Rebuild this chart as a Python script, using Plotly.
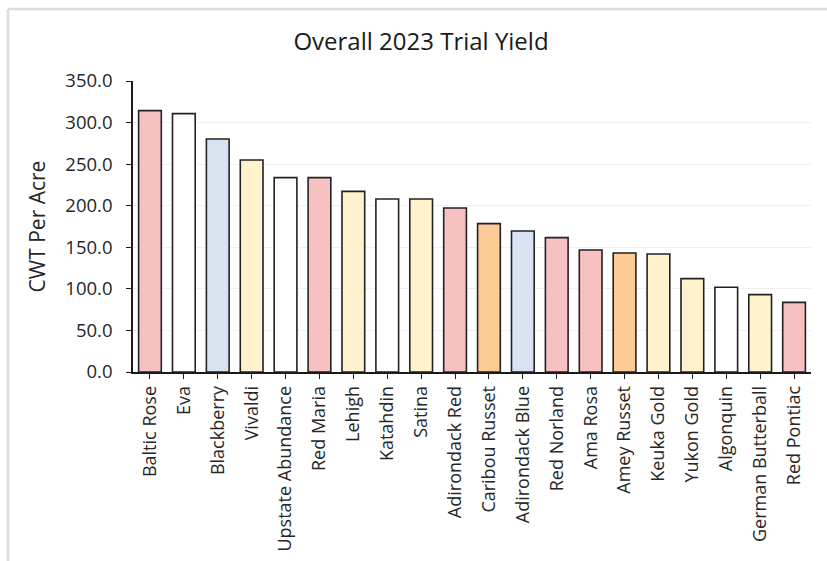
import plotly.graph_objects as go

# Potato varieties in the 2023 trial, sorted by yield
varieties = [
    "Baltic Rose", "Eva", "Blackberry", "Vivaldi", "Upstate Abundance",
    "Red Maria", "Lehigh", "Katahdin", "Satina", "Adirondack Red",
    "Caribou Russet", "Adirondack Blue", "Red Norland", "Ama Rosa",
    "Amey Russet", "Keuka Gold", "Yukon Gold", "Algonquin",
    "German Butterball", "Red Pontiac",
]
yield_cwt = [
    314.4, 310.8, 280.3, 255.0, 233.8,
    233.8, 217.3, 208.1, 208.1, 197.3,
    178.5, 169.6, 161.6, 146.8,
    143.2, 142.0, 112.3, 101.9,
    93.1, 83.8,
]
# Skin colour group of each variety
skin_group = [
    "red", "white", "blue", "yellow", "white",
    "red", "yellow", "white", "yellow", "red",
    "russet", "blue", "red", "red",
    "russet", "yellow", "yellow", "white",
    "yellow", "red",
]
y_ticks = [0, 50, 100, 150, 200, 250, 300, 350]

group_colors = {
    "red": "#F8C1C1",
    "white": "#FFFFFF",
    "blue": "#D9E2F3",
    "yellow": "#FFF2CC",
    "russet": "#FDCB96",
}

FONT = "'Open Sans', 'Noto Sans', sans-serif"

fig = go.Figure(
    go.Bar(
        x=varieties,
        y=yield_cwt,
        marker=dict(
            color=[group_colors[g] for g in skin_group],
            line=dict(color="#222222", width=1.6),
        ),
        width=0.67,
    )
)

L, R, T, B = 133, 16, 81, 189
W, H = 827, 561
pw, ph = W - L - R, H - T - B

def px_x(v):
    return (v - L) / pw

def px_y(v):
    return (H - B - v) / ph

fig.update_layout(
    width=W,
    height=H,
    margin=dict(l=L, r=R, t=T, b=B),
    paper_bgcolor="white",
    plot_bgcolor="white",
    showlegend=False,
    font=dict(family=FONT, size=17, color="#262626"),
    title=dict(
        text="Overall 2023 Trial Yield",
        x=421 / W,
        xanchor="center",
        y=1 - 42 / H,
        yanchor="middle",
        font=dict(family=FONT, size=24, color="#1a1a1a"),
    ),
    xaxis=dict(
        automargin=False,
        tickangle=-90,
        showline=True,
        linecolor="#1a1a1a",
        linewidth=1.6,
        ticks="outside",
        ticklen=5,
        tickcolor="#1a1a1a",
        tickfont=dict(family=FONT, size=18, color="#262626"),
        showgrid=False,
        range=[-0.5, len(varieties) - 0.5],
    ),
    yaxis=dict(
        automargin=False,
        range=[0, 350],
        tickvals=y_ticks,
        ticktext=[f"{v:.1f}" for v in y_ticks],
        showline=True,
        linecolor="#1a1a1a",
        linewidth=1.6,
        ticks="outside",
        ticklen=5,
        tickcolor="#1a1a1a",
        ticklabelstandoff=10,
        showgrid=True,
        gridcolor="#F0F0F0",
        gridwidth=1,
        zeroline=False,
        tickfont=dict(family=FONT, size=18.5, color="#262626"),
        title=dict(
            text="CWT Per Acre",
            font=dict(family=FONT, size=21, color="#262626"),
            standoff=14,
        ),
    ),
    shapes=[
        # light frame around the chart area
        dict(type="line", xref="paper", yref="paper",
             x0=px_x(8), x1=px_x(W + 5), y0=px_y(9), y1=px_y(9),
             line=dict(color="#DCDCDC", width=2.5)),
        dict(type="line", xref="paper", yref="paper",
             x0=px_x(8), x1=px_x(8), y0=px_y(9), y1=px_y(H + 5),
             line=dict(color="#DCDCDC", width=2.5)),
    ],
)

fig.write_html("out.html")
